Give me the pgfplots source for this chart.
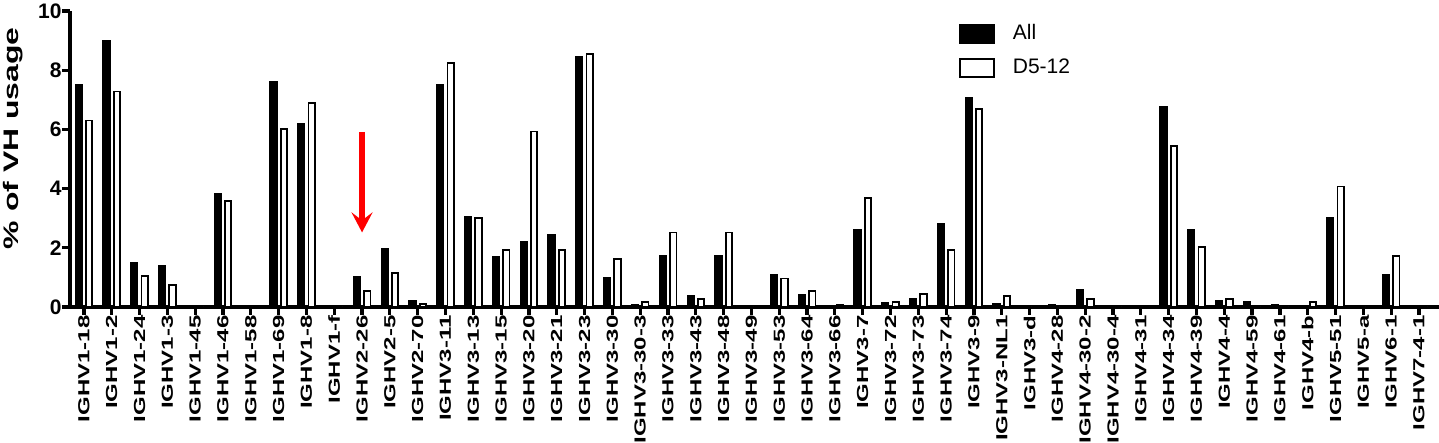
\documentclass[border=0pt]{standalone}
\usepackage{pgfplots}
\pgfplotsset{compat=1.18}
\usepackage{pgfplotstable}
\usepackage{fontspec}
\setmainfont{Liberation Sans}
\usepackage{graphicx}
\usetikzlibrary{arrows.meta}

\newcommand\xl[1]{\scalebox{1.5}[1]{#1}}

\pgfplotstableread{
x all d5
0 7.50 6.30
1 9.00 7.28
2 1.50 1.05
3 1.38 0.75
4 0.05 0
5 3.83 3.58
6 0 0
7 7.62 6.02
8 6.20 6.88
9 0 0
10 1.03 0.55
11 1.96 1.15
12 0.20 0.10
13 7.50 8.25
14 3.05 3.00
15 1.68 1.93
16 2.20 5.93
17 2.43 1.93
18 8.45 8.55
19 0.97 1.62
20 0.08 0.17
21 1.72 2.52
22 0.37 0.26
23 1.72 2.52
24 0 0
25 1.08 0.96
26 0.40 0.55
27 0.03 0.08
28 2.62 3.68
29 0.14 0.17
30 0.29 0.45
31 2.80 1.93
32 7.05 6.70
33 0.12 0.36
34 0 0
35 0.08 0
36 0.58 0.26
37 0 0
38 0 0
39 6.77 5.43
40 2.60 2.02
41 0.20 0.26
42 0.17 0
43 0.08 0
44 0 0.17
45 3.02 4.07
46 0.03 0
47 1.10 1.73
48 0 0
}\datatable

\begin{document}
\begin{tikzpicture}
\begin{axis}[name=ax, scale only axis, width=684.5pt, height=148pt,
  xmin=-0.5, xmax=48.72, ymin=0, ymax=10,
  axis x line*=bottom, axis y line*=left,
  axis line style={line width=1.8pt, -},
  x axis line style={shorten <=-3.5pt},
  ytick={0,2,4,6,8,10},
  xtick={0,...,48},
  xticklabels={\xl{IGHV1-18},\xl{IGHV1-2},\xl{IGHV1-24},\xl{IGHV1-3},\xl{IGHV1-45},\xl{IGHV1-46},\xl{IGHV1-58},\xl{IGHV1-69},\xl{IGHV1-8},\xl{IGHV1-f},\xl{IGHV2-26},\xl{IGHV2-5},\xl{IGHV2-70},\xl{IGHV3-11},\xl{IGHV3-13},\xl{IGHV3-15},\xl{IGHV3-20},\xl{IGHV3-21},\xl{IGHV3-23},\xl{IGHV3-30},\xl{IGHV3-30-3},\xl{IGHV3-33},\xl{IGHV3-43},\xl{IGHV3-48},\xl{IGHV3-49},\xl{IGHV3-53},\xl{IGHV3-64},\xl{IGHV3-66},\xl{IGHV3-7},\xl{IGHV3-72},\xl{IGHV3-73},\xl{IGHV3-74},\xl{IGHV3-9},\xl{IGHV3-NL1},\xl{IGHV3-d},\xl{IGHV4-28},\xl{IGHV4-30-2},\xl{IGHV4-30-4},\xl{IGHV4-31},\xl{IGHV4-34},\xl{IGHV4-39},\xl{IGHV4-4},\xl{IGHV4-59},\xl{IGHV4-61},\xl{IGHV4-b},\xl{IGHV5-51},\xl{IGHV5-a},\xl{IGHV6-1},\xl{IGHV7-4-1}},
  tick align=outside,
  tick style={line width=1.6pt, black},
  major tick length=4pt,
  x tick label style={rotate=90, anchor=east, font=\fontsize{8}{9}\selectfont\bfseries, inner sep=0pt},
  y tick label style={font=\fontsize{10.5}{12}\selectfont\bfseries, inner sep=0pt},
  /pgf/number format/assume math mode=true,
  ylabel={\scalebox{1.52}[1]{\% of VH usage}},
  ylabel style={font=\fontsize{10.5}{12}\selectfont\bfseries, at={(axis description cs:-0.0416,0.57)}, anchor=center},
  legend style={draw=none, fill=none, at={(rel axis cs:0.649,0.958)}, anchor=north west,
    font=\fontsize{10.5}{12}\selectfont, row sep=7pt, inner sep=0pt,
    nodes={inner sep=0pt, anchor=west}},
  legend cell align=left,
  /tikz/every odd column/.append style={column sep=9pt},
  mylegend/.style={legend image code/.code={\draw[##1, line width=1pt] (0pt,-4.5pt) rectangle (17pt,4.5pt);}},
]
\addplot[ybar, bar width=3.2pt, bar shift=-2.6pt, fill=black, draw=black, line width=0.9pt, mylegend] table[x=x, y=all]{\datatable};
\addlegendentry{All}
\addplot[ybar, bar width=3.2pt, bar shift=2.6pt, fill=white, draw=black, line width=0.9pt, mylegend] table[x=x, y=d5]{\datatable};
\addlegendentry{D5-12}
\draw[red, line width=2.6pt, -{Stealth[length=10pt, width=10.5pt, inset=4pt]}] (axis cs:10,5.92) -- (axis cs:10,2.52);
\end{axis}
\pgfresetboundingbox
\path[use as bounding box] ([shift={(-35pt,-68pt)}]ax.south west) rectangle ([shift={(0pt,5.5pt)}]ax.north east);
\end{tikzpicture}
\end{document}
